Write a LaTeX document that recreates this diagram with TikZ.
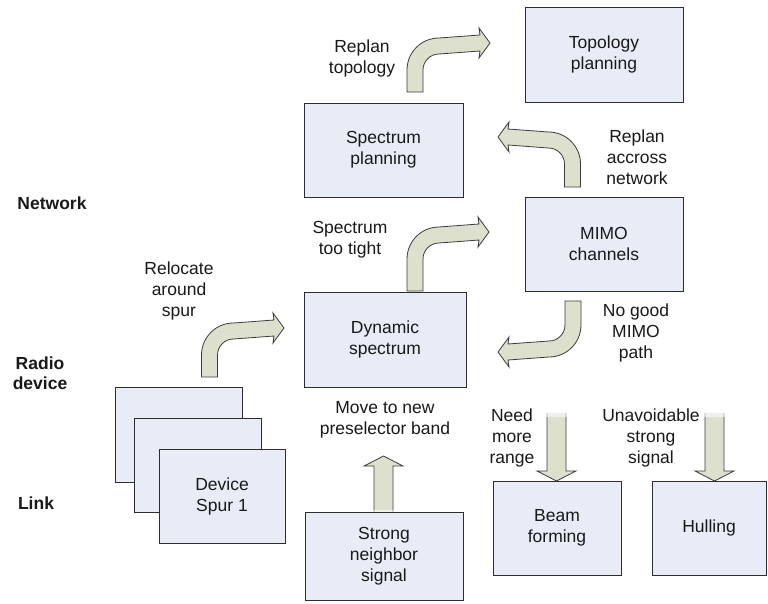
\documentclass[tikz,border=0pt]{standalone}
\usepackage{fontspec}
\setmainfont{Liberation Sans}
\definecolor{boxfill}{RGB}{231,236,247}
\definecolor{boxline}{RGB}{45,45,45}
\definecolor{arrowfill}{RGB}{221,224,204}
\definecolor{arrowline}{RGB}{60,60,60}
\definecolor{txt}{RGB}{25,25,25}
\tikzset{
  lbl/.style={align=center, text=txt, inner sep=0pt,
    font=\fontsize{17.5}{21}\selectfont},
  side/.style={lbl, font=\fontsize{17.5}{20}\selectfont\bfseries},
  box/.style={draw=boxline, fill=boxfill, line width=0.8pt, lbl},
  blockarrow/.style={fill=arrowfill, draw=arrowline, line width=0.8pt, line join=miter},
  % bent block arrow: vertical shaft rising from the origin, turning to the
  % right with a slight upward tilt; #1 = rise to the tip, #2 = run to the tip
  pics/bent/.style args={#1/#2}{code={
    \path[blockarrow]
      (-8,0) -- (-8,{-#1+27})
      .. controls (-8,{-#1+9.3}) and (6.3,{-#1-5}) .. (24,{-#1-5})
      -- ({#2-10},{-#1-8}) -- ({#2-11},{-#1-15}) -- (#2,-#1)
      -- ({#2-11},{-#1+15}) -- ({#2-10},{-#1+8}) -- (24,{-#1+11})
      .. controls (15.2,{-#1+11}) and (8,{-#1+18.2}) .. (8,{-#1+27})
      -- (8,0) -- cycle;
  }},
  % straight block arrow pointing down from the origin, #1 = length
  pics/straight/.style={code={
    \fill[arrowfill] (-9.5,0) -- (-9.5,{#1-10}) -- (-19.5,{#1-10}) -- (0,#1)
      -- (19.5,{#1-10}) -- (9.5,{#1-10}) -- (9.5,0) -- cycle;
    \draw[arrowline, line width=0.8pt]
      (-9.5,0) -- (-9.5,{#1-10}) -- (-19.5,{#1-10}) -- (0,#1)
      -- (19.5,{#1-10}) -- (9.5,{#1-10}) -- (9.5,0);
    \fill[white, opacity=0.55] (-10.5,-0.5) rectangle (10.5,4);
  }}
}
\begin{document}
\begin{tikzpicture}[x=1pt, y=-1pt]
\useasboundingbox[fill=white] (0,0) rectangle (768,603);

% layer names
\node[side] (lnet)   at (52,203) {Network};
\node[side] (lradio) at (40,373) {Radio\\device};
\node[side] (llink)  at (36,503) {Link};

% arrows first, so the boxes cover their ends
\pic at (209.5,377) {bent=49/74.5};
\pic at (415,291) {bent=59/74};
\pic at (415,92) {bent=49/75};
\pic[xscale=-1] at (572.5,187) {bent=50/74.5};
\pic[xscale=-1, yscale=-1] at (573,301) {bent=51/75};
\pic at (556.5,413) {straight=68};
\pic at (714.5,413) {straight=68};
\pic[yscale=-1] at (383.5,514) {straight=58};

% boxes
\node[box, minimum width=158pt, minimum height=95pt] (topo) at (604,54.5) {Topology\\planning};
\node[box, minimum width=159pt, minimum height=94pt] (specplan) at (383.5,150) {Spectrum\\planning};
\node[box, minimum width=158pt, minimum height=94pt] (mimo) at (604,244) {MIMO\\channels};
\node[box, minimum width=162pt, minimum height=95pt] (dyn) at (385,339.5) {Dynamic\\spectrum};
\node[box, minimum width=127pt, minimum height=95pt] (dev1) at (178.5,434.5) {};
\node[box, minimum width=127pt, minimum height=94pt] (dev2) at (197.5,465) {};
\node[box, minimum width=126pt, minimum height=94pt] (dev3) at (222,496) {Device\\Spur 1};
\node[box, minimum width=158pt, minimum height=88pt] (strong) at (384,556) {Strong\\neighbor\\signal};
\node[box, minimum width=128pt, minimum height=94pt] (beam) at (557,528) {Beam\\forming};
\node[box, minimum width=114pt, minimum height=94pt] (hull) at (709,528) {Hulling};

% arrow labels
\node[lbl] (ltopo)  at (362,58)  {Replan\\topology};
\node[lbl] (lreloc) at (179,291) {Relocate\\around\\spur};
\node[lbl] (ltight) at (350,240) {Spectrum\\too tight};
\node[lbl] (lacross) at (637,157) {Replan\\accross\\network};
\node[lbl] (lnogood) at (636,333) {No good\\MIMO\\path};
\node[lbl] (lmove)  at (385,420) {Move to new\\preselector band};
\node[lbl] (lrange) at (512,438) {Need\\more\\range};
\node[lbl] (lunav)  at (651,438) {Unavoidable\\strong\\signal};
\end{tikzpicture}
\end{document}
